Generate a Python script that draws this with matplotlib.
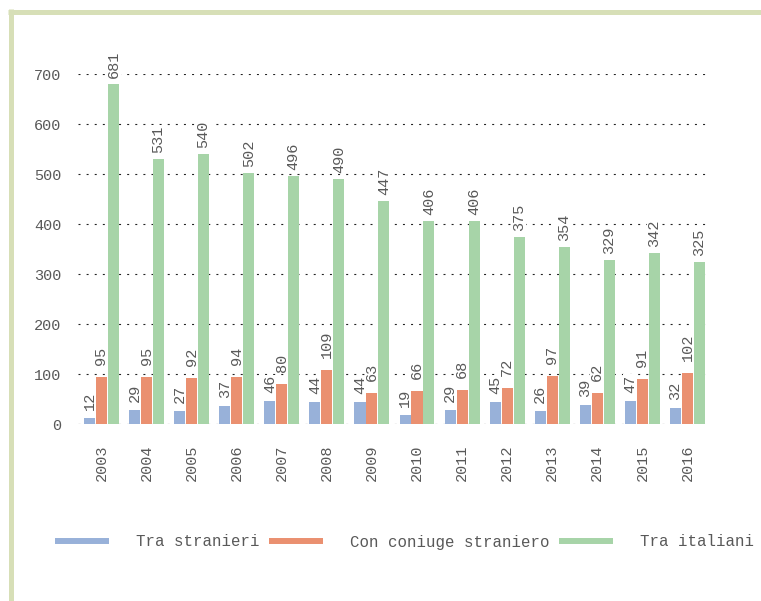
import matplotlib
matplotlib.use('Agg')
import matplotlib.pyplot as plt
import numpy as np
from matplotlib.lines import Line2D

years = ['2003', '2004', '2005', '2006', '2007', '2008', '2009',
         '2010', '2011', '2012', '2013', '2014', '2015', '2016']
tra_stranieri = [12, 29, 27, 37, 46, 44, 44, 19, 29, 45, 26, 39, 47, 32]
con_coniuge = [95, 95, 92, 94, 80, 109, 63, 66, 68, 72, 97, 62, 91, 102]
tra_italiani = [681, 531, 540, 502, 496, 490, 447, 406, 406, 375, 354, 329, 342, 325]

series_names = ['Tra stranieri', 'Con coniuge straniero', 'Tra italiani']
colors = ['#98b1d9', '#ea9070', '#a7d4a8']
label_gap = [5.5, 8.5, 4.3]  # points between bar top and value label

num_font = 'Liberation Mono'
text_col = '#595959'

fig = plt.figure(figsize=(7.61, 6.01), dpi=100)
ax = fig.add_axes([78 / 761, 1 - 424 / 601, 628 / 761, 350 / 601])

x = np.arange(len(years))
w = 0.245
offs = [-0.265, 0.0, 0.265]
all_vals = [tra_stranieri, con_coniuge, tra_italiani]
for vals, off, c, gap in zip(all_vals, offs, colors, label_gap):
    bars = ax.bar(x + off, vals, width=w, color=c, zorder=2)
    for b, v in zip(bars, vals):
        # white box hides the dotted grid, bars stay on top of it
        ax.annotate(str(v), (b.get_x() + b.get_width() / 2, v),
                    xytext=(0, gap), textcoords='offset points',
                    rotation=90, ha='center', va='bottom',
                    fontsize=11, family=num_font, color=text_col,
                    bbox=dict(boxstyle='square,pad=0.02', fc='white', ec='none'),
                    zorder=1.5, annotation_clip=False)

ax.set_xlim(-0.52, 13.41)
ax.set_ylim(0, 700)
ax.set_yticks(range(0, 701, 100))
ax.set_xticks(x)
ax.set_xticklabels(years, rotation=90)
ax.tick_params(axis='both', length=0, labelsize=11, labelcolor=text_col)
ax.tick_params(axis='y', pad=12)
ax.tick_params(axis='x', pad=15)
for lab in ax.get_xticklabels() + ax.get_yticklabels():
    lab.set_family(num_font)
ax.yaxis.grid(True, color='#222222', linewidth=0.8, linestyle=(0, (1.8, 5.5)), zorder=0)
ax.set_axisbelow(True)
for s in ax.spines.values():
    s.set_visible(False)

handles = [Line2D([], [], color=c, linewidth=4.3, solid_capstyle='butt') for c in colors]
fig.legend(handles, series_names, loc='center left', bbox_to_anchor=(55 / 761, 1 - 542 / 601),
           ncol=3, frameon=False, handlelength=3.45, handletextpad=1.72, columnspacing=0.6,
           prop={'family': 'Liberation Mono', 'size': 11.3}, labelcolor=text_col,
           borderaxespad=0, borderpad=0)

# frame border on top and left
border = '#d7dfb7'
fig.add_artist(Line2D([8 / 761, 1], [1 - 11.5 / 601] * 2, color=border, linewidth=3.6,
                      transform=fig.transFigure, solid_capstyle='butt'))
fig.add_artist(Line2D([10.5 / 761] * 2, [0, 1 - 9 / 601], color=border, linewidth=3.6,
                      transform=fig.transFigure, solid_capstyle='butt'))

fig.savefig('out.png', dpi=100)
